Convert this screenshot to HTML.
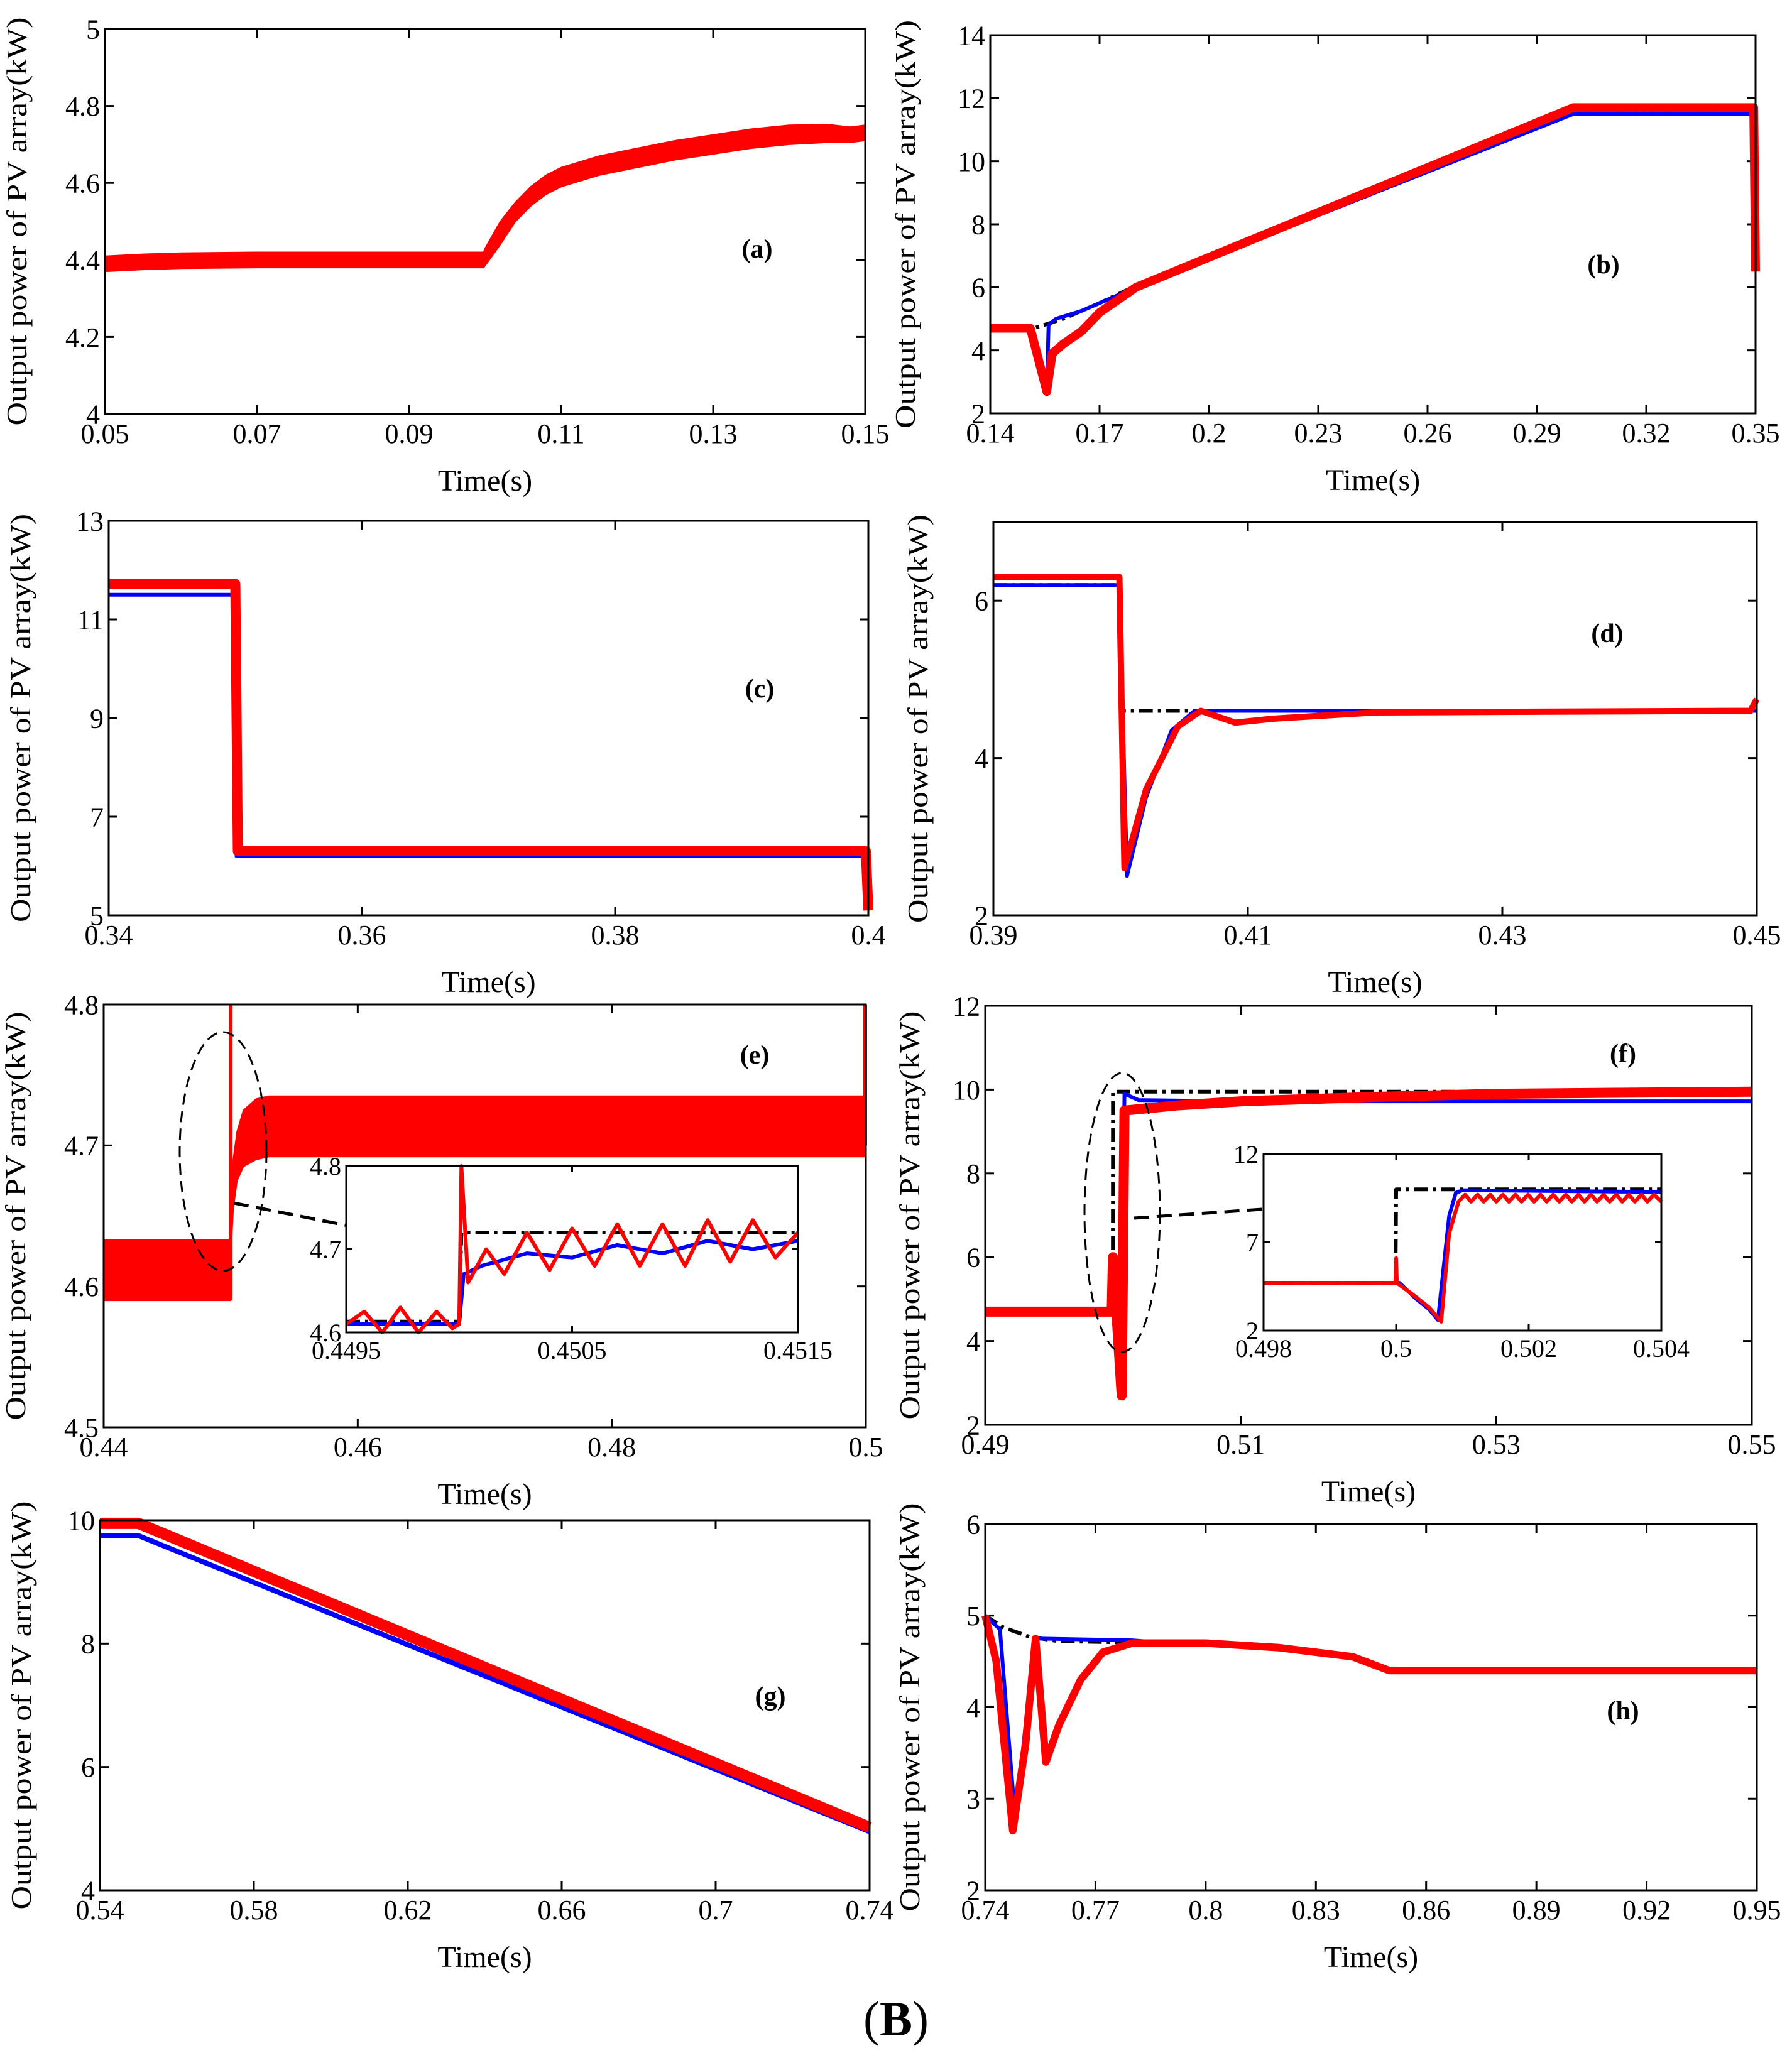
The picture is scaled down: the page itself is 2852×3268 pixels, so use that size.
<!DOCTYPE html>
<html><head><meta charset="utf-8">
<style>
html,body{margin:0;padding:0;background:#fff;}
svg{display:block;font-family:"Liberation Serif",serif;}
</style></head>
<body>
<svg id="fig" width="2852" height="3268" viewBox="0 0 2852 3268" xmlns="http://www.w3.org/2000/svg">
<rect width="2852" height="3268" fill="#fff"/>
<text x="1426" y="3240" font-size="78" text-anchor="middle">(<tspan font-weight="bold">B</tspan>)</text>
</svg>
<script>
// ---- data (time in s, power in kW) ----
const aBandT=[0.05,0.055,0.06,0.07,0.08,0.09,0.0998,0.1,0.102,0.104,0.106,0.108,0.11,0.115,0.12,0.125,0.13,0.135,0.14,0.145,0.148,0.15];
const aBandLo=[4.37,4.375,4.378,4.38,4.38,4.38,4.38,4.385,4.44,4.5,4.54,4.57,4.59,4.62,4.64,4.66,4.675,4.69,4.7,4.705,4.705,4.71];
const aBandHi=[4.41,4.415,4.418,4.42,4.42,4.42,4.42,4.43,4.5,4.55,4.59,4.62,4.64,4.67,4.69,4.71,4.725,4.74,4.75,4.752,4.745,4.75];

const bRefT=[0.14,0.152,0.16,0.17,0.18,0.3,0.35];
const bRefV=[4.7,4.7,5.0,5.5,6.05,11.6,11.6];
const bBlueT=[0.14,0.151,0.1555,0.156,0.158,0.165,0.178,0.3,0.3495,0.35];
const bBlueV=[4.7,4.7,2.6,4.8,5.0,5.25,5.9,11.5,11.5,7.0];
const bRedT=[0.14,0.151,0.1555,0.157,0.16,0.165,0.17,0.18,0.3,0.3495,0.35];
const bRedV=[4.7,4.7,2.7,3.9,4.2,4.6,5.2,6.0,11.7,11.7,6.5];

const cBlueT=[0.34,0.35,0.3501,0.4];
const cBlueV=[11.5,11.5,6.2,6.2];
const cRedT=[0.34,0.35,0.3502,0.3998,0.4];
const cRedV=[11.72,11.72,6.3,6.3,5.1];

const dRefT=[0.39,0.3999,0.40,0.45];
const dRefV=[6.2,6.2,4.6,4.6];
const dBlueT=[0.39,0.3999,0.4005,0.402,0.404,0.4058,0.41,0.45];
const dBlueV=[6.2,6.2,2.5,3.5,4.35,4.6,4.6,4.6];
const dRedT=[0.39,0.3999,0.4003,0.402,0.4045,0.4063,0.409,0.412,0.42,0.4495,0.45];
const dRedV=[6.3,6.3,2.6,3.6,4.4,4.6,4.45,4.5,4.58,4.6,4.75];

const eBand1T=[0.44,0.45];
const eBand1Lo=[4.59,4.59];
const eBand1Hi=[4.633,4.633];
const eBand2T=[0.45,0.4502,0.4505,0.451,0.452,0.453,0.5];
const eBand2Lo=[4.62,4.655,4.675,4.685,4.69,4.692,4.692];
const eBand2Hi=[4.64,4.69,4.71,4.725,4.733,4.735,4.735];
const eSpike1T=[0.45,0.45];
const eSpike1V=[4.59,4.8];
const eSpike2T=[0.49995,0.49995];
const eSpike2V=[4.7,4.8];
const eInRefT=[0.4495,0.45,0.45001,0.4515];
const eInRefV=[4.613,4.613,4.72,4.72];
const eInBlueT=[0.4495,0.4499,0.45,0.45002,0.4501,0.4503,0.4505,0.4507,0.4509,0.4511,0.4513,0.4515];
const eInBlueV=[4.61,4.61,4.61,4.67,4.68,4.695,4.69,4.705,4.695,4.71,4.7,4.71];
const eInRedT=[0.4495,0.44958,0.44966,0.44974,0.44982,0.4499,0.44997,0.45,0.45001,0.45004,0.45012,0.4502,0.4503,0.4504,0.4505,0.4506,0.4507,0.4508,0.4509,0.451,0.4511,0.4512,0.4513,0.4514,0.4515];
const eInRedV=[4.61,4.625,4.6,4.63,4.6,4.625,4.605,4.61,4.8,4.66,4.7,4.67,4.72,4.675,4.725,4.68,4.73,4.68,4.73,4.68,4.735,4.685,4.735,4.69,4.72];

const fRefT=[0.49,0.49999,0.5,0.55];
const fRefV=[4.7,4.7,9.95,9.95];
const fBlueT=[0.49,0.4999,0.5,0.50063,0.5009,0.502,0.51,0.55];
const fBlueV=[4.7,4.7,6.0,2.8,9.9,9.75,9.72,9.72];
const fRedT=[0.49,0.4999,0.5,0.50068,0.5009,0.505,0.51,0.52,0.53,0.55];
const fRedV=[4.7,4.7,6.0,2.7,9.5,9.62,9.72,9.82,9.9,9.95];
const fInRefT=[0.498,0.49999,0.5,0.504];
const fInRefV=[4.7,4.7,10.0,10.0];
const fInBlueT=[0.498,0.5,0.50005,0.5003,0.5005,0.50063,0.5008,0.5009,0.501,0.504];
const fInBlueV=[4.7,4.7,4.7,3.8,3.2,2.6,8.5,9.8,9.95,9.85];
const fInRedT=[0.498,0.49999,0.5,0.50001,0.5003,0.5005,0.50068,0.5008,0.50094,0.50104,0.50113,0.50123,0.50132,0.50142,0.50151,0.50161,0.5017,0.5018,0.50189,0.50199,0.50208,0.50218,0.50227,0.50237,0.50246,0.50256,0.50265,0.50275,0.50284,0.50294,0.50303,0.50313,0.50322,0.50332,0.50341,0.50351,0.5036,0.5037,0.50379,0.50389,0.504];
const fInRedV=[4.7,4.7,6.1,4.7,3.9,3.3,2.5,7.5,9.3,9.7,9.3,9.7,9.3,9.7,9.3,9.7,9.3,9.7,9.3,9.7,9.3,9.7,9.3,9.7,9.3,9.7,9.3,9.7,9.3,9.7,9.3,9.7,9.3,9.7,9.3,9.7,9.3,9.7,9.3,9.7,9.3];

const gBlueT=[0.54,0.55,0.74];
const gBlueV=[9.75,9.75,4.95];
const gRedT=[0.54,0.55,0.74];
const gRedV=[9.95,9.95,5.02];

const hRefT=[0.74,0.745,0.752,0.76,0.79,0.82,0.84,0.85,0.95];
const hRefV=[5.0,4.87,4.77,4.72,4.7,4.65,4.55,4.4,4.4];
const hBlueT=[0.74,0.744,0.7482,0.752,0.754,0.78,0.79,0.82,0.84,0.85,0.95];
const hBlueV=[5.0,4.85,2.75,4.2,4.75,4.73,4.7,4.65,4.55,4.4,4.4];
const hRedT=[0.74,0.743,0.7475,0.751,0.7537,0.7565,0.76,0.766,0.772,0.78,0.8,0.82,0.84,0.85,0.95];
const hRedV=[5.0,4.5,2.65,3.6,4.75,3.4,3.8,4.3,4.6,4.7,4.7,4.65,4.55,4.4,4.4];

// ---- drawing ----
const NS="http://www.w3.org/2000/svg";
const fig=document.getElementById('fig');
function mk(tag,attrs,parent){const e=document.createElementNS(NS,tag);for(const k in attrs)e.setAttribute(k,attrs[k]);(parent||fig).appendChild(e);return e;}
const STY={ref:{stroke:'#000',w:6,dash:'22 8 5 8'},blue:{stroke:'#0000ff',w:6},red:{stroke:'#ff0000',w:7}};

function panel(p){
  const g=mk('g',{});
  
  
  const sx=t=>p.L+(t-p.x0)/(p.x1-p.x0)*(p.R-p.L);
  const sy=v=>p.B-(v-p.y0)/(p.y1-p.y0)*(p.B-p.T);
  if(p.inset){const bg=mk('rect',{x:p.L,y:p.T,width:p.R-p.L,height:p.B-p.T,fill:'#fff'},g);
    
    }
  const fs=p.fs||44, tl=p.inset?10:14;
  p.xt.forEach((t,i)=>{const x=sx(t);
    mk('line',{x1:x,y1:p.B,x2:x,y2:p.B-tl,stroke:'#000','stroke-width':3},g);
    mk('line',{x1:x,y1:p.T,x2:x,y2:p.T+tl,stroke:'#000','stroke-width':3},g);
    const tx=mk('text',{x:x,y:p.B+fs*1.05,'font-size':fs,'text-anchor':'middle'},g);
    tx.textContent=p.xl[i];
    
    });
  p.yt.forEach((v,i)=>{const y=sy(v);
    mk('line',{x1:p.L,y1:y,x2:p.L+tl,y2:y,stroke:'#000','stroke-width':3},g);
    mk('line',{x1:p.R,y1:y,x2:p.R-tl,y2:y,stroke:'#000','stroke-width':3},g);
    const tx=mk('text',{x:p.L-8,y:y+fs*0.35,'font-size':fs,'text-anchor':'end'},g);
    tx.textContent=p.yl[i];
    
    });
  const cp='cp'+p.name;
  const cl=mk('clipPath',{id:cp},g);mk('rect',{x:p.L-8,y:p.T-30,width:p.R-p.L+16,height:p.B-p.T+40},cl);
  (p.bands||[]).forEach(b=>{
    const pts=b.t.map((t,i)=>sx(t).toFixed(1)+','+sy(b.hi[i]).toFixed(1));
    for(let i=b.t.length-1;i>=0;i--)pts.push(sx(b.t[i]).toFixed(1)+','+sy(b.lo[i]).toFixed(1));
    const pg=mk('polygon',{points:pts.join(' '),fill:'#ff0000',stroke:'#ff0000','stroke-width':2,'clip-path':'url(#'+cp+')'},g);
    
    });
  (p.series||[]).forEach(s=>{const st=STY[s.kind];
    const d=s.t.map((t,i)=>(i?'L':'M')+sx(t).toFixed(1)+','+sy(s.v[i]).toFixed(1)).join('');
    const a={d:d,fill:'none',stroke:st.stroke,'stroke-width':s.w||st.w,'stroke-linejoin':'round','clip-path':'url(#'+cp+')'};
    if(st.dash)a['stroke-dasharray']=st.dash;
    const pa=mk('path',a,g);
    
    });
  const fr=mk('rect',{x:p.L,y:p.T,width:p.R-p.L,height:p.B-p.T,fill:'none',stroke:'#000','stroke-width':3},g);
  
  
  if(!p.inset){
    const xt=mk('text',{x:(p.L+p.R)/2,y:p.B+122,'font-size':48,'text-anchor':'middle'},g);
    xt.textContent='Time(s)';
    
    
    const yc=(p.T+p.B)/2, yx=p.L-(p.ylx||125);
    const yt=mk('text',{x:yx,y:yc,'font-size':46,'text-anchor':'middle',transform:'rotate(-90 '+yx+' '+yc+')',textLength:650,lengthAdjust:'spacingAndGlyphs'},g);
    yt.textContent='Output power of PV array(kW)';
    
    
    const lb=mk('text',{x:p.lab[0],y:p.lab[1],'font-size':42,'font-weight':'bold','text-anchor':'middle'},g);
    lb.textContent=p.labText;
    
    
  }
}
const R=(t,v,kind,w)=>({t:t,v:v,kind:kind,w:w});
panel({name:'panel-a',L:167,R:1377,T:46,B:659,x0:0.05,x1:0.15,y0:4,y1:5,xt:[0.05,0.07,0.09,0.11,0.13,0.15],xl:['0.05','0.07','0.09','0.11','0.13','0.15'],yt:[4,4.2,4.4,4.6,4.8,5],yl:['4','4.2','4.4','4.6','4.8','5'],lab:[1205,410],labText:'(a)',ylx:125,
  bands:[{t:aBandT,lo:aBandLo,hi:aBandHi}]});
panel({name:'panel-b',L:1576,R:2794,T:56,B:658,x0:0.14,x1:0.35,y0:2,y1:14,xt:[0.14,0.17,0.2,0.23,0.26,0.29,0.32,0.35],xl:['0.14','0.17','0.2','0.23','0.26','0.29','0.32','0.35'],yt:[2,4,6,8,10,12,14],yl:['2','4','6','8','10','12','14'],lab:[2552,435],labText:'(b)',ylx:120,
  series:[R(bRefT,bRefV,'ref'),R(bBlueT,bBlueV,'blue'),R(bRedT,bRedV,'red',14)]});
panel({name:'panel-c',L:173,R:1382,T:829,B:1457,x0:0.34,x1:0.4,y0:5,y1:13,xt:[0.34,0.36,0.38,0.4],xl:['0.34','0.36','0.38','0.4'],yt:[5,7,9,11,13],yl:['5','7','9','11','13'],lab:[1209,1110],labText:'(c)',ylx:125,
  series:[R(cBlueT,cBlueV,'blue'),R(cRedT,cRedV,'red',16)]});
panel({name:'panel-d',L:1581,R:2796,T:831,B:1457,x0:0.39,x1:0.45,y0:2,y1:7,xt:[0.39,0.41,0.43,0.45],xl:['0.39','0.41','0.43','0.45'],yt:[2,4,6],yl:['2','4','6'],lab:[2558,1022],labText:'(d)',ylx:105,
  series:[R(dRefT,dRefV,'ref'),R(dBlueT,dBlueV,'blue'),R(dRedT,dRedV,'red',10)]});
panel({name:'panel-e',L:165,R:1378,T:1599,B:2272,x0:0.44,x1:0.5,y0:4.5,y1:4.8,xt:[0.44,0.46,0.48,0.5],xl:['0.44','0.46','0.48','0.5'],yt:[4.5,4.6,4.7,4.8],yl:['4.5','4.6','4.7','4.8'],lab:[1201,1693],labText:'(e)',ylx:125,
  bands:[{t:eBand1T,lo:eBand1Lo,hi:eBand1Hi},{t:eBand2T,lo:eBand2Lo,hi:eBand2Hi}],
  series:[R(eSpike1T,eSpike1V,'red',6),R(eSpike2T,eSpike2V,'red',6)]});
panel({name:'panel-f',L:1568,R:2788,T:1601,B:2268,x0:0.49,x1:0.55,y0:2,y1:12,xt:[0.49,0.51,0.53,0.55],xl:['0.49','0.51','0.53','0.55'],yt:[2,4,6,8,10,12],yl:['2','4','6','8','10','12'],lab:[2583,1691],labText:'(f)',ylx:105,
  series:[R(fRefT,fRefV,'ref'),R(fBlueT,fBlueV,'blue'),R(fRedT,fRedV,'red',16)]});
panel({name:'panel-g',L:159,R:1384,T:2420,B:3009,x0:0.54,x1:0.74,y0:4,y1:10,xt:[0.54,0.58,0.62,0.66,0.7,0.74],xl:['0.54','0.58','0.62','0.66','0.7','0.74'],yt:[4,6,8,10],yl:['4','6','8','10'],lab:[1226,2714],labText:'(g)',ylx:110,
  series:[R(gBlueT,gBlueV,'blue',8),R(gRedT,gRedV,'red',18)]});
panel({name:'panel-h',L:1568,R:2796,T:2426,B:3009,x0:0.74,x1:0.95,y0:2,y1:6,xt:[0.74,0.77,0.8,0.83,0.86,0.89,0.92,0.95],xl:['0.74','0.77','0.8','0.83','0.86','0.89','0.92','0.95'],yt:[2,3,4,5,6],yl:['2','3','4','5','6'],lab:[2583,2737],labText:'(h)',ylx:105,
  series:[R(hRefT,hRefV,'ref'),R(hBlueT,hBlueV,'blue'),R(hRedT,hRedV,'red',12)]});

// annotations (ellipses + arrows)
function anno(name,cx,cy,rx,ry,x1,y1,x2,y2){
  const g=mk('g',{});
  
  
  mk('ellipse',{cx:cx,cy:cy,rx:rx,ry:ry,fill:'none',stroke:'#000','stroke-width':3,'stroke-dasharray':'18 10'},g);
  mk('line',{x1:x1,y1:y1,x2:x2,y2:y2,stroke:'#000','stroke-width':5,'stroke-dasharray':'24 12'},g);
  const ang=Math.atan2(y2-y1,x2-x1),L=36;
  const p=[[x2-L*Math.cos(ang-0.5),y2-L*Math.sin(ang-0.5)],[x2,y2],[x2-L*Math.cos(ang+0.5),y2-L*Math.sin(ang+0.5)]];
  mk('polyline',{points:p.map(q=>q.join(',')).join(' '),fill:'none',stroke:'#000','stroke-width':5},g);
}
anno('zoom-annotation-e',355,1833,69,190,372,1915,700,1980);
anno('zoom-annotation-f',1786,1930,60,222,1805,1939,2080,1920);

panel({name:'inset-e',inset:true,fs:40,L:551,R:1270,T:1856,B:2121,x0:0.4495,x1:0.4515,y0:4.6,y1:4.8,xt:[0.4495,0.4505,0.4515],xl:['0.4495','0.4505','0.4515'],yt:[4.6,4.7,4.8],yl:['4.6','4.7','4.8'],
  series:[R(eInRefT,eInRefV,'ref'),R(eInBlueT,eInBlueV,'blue'),R(eInRedT,eInRedV,'red',6)]});
panel({name:'inset-f',inset:true,fs:40,L:2011,R:2644,T:1837,B:2118,x0:0.498,x1:0.504,y0:2,y1:12,xt:[0.498,0.5,0.502,0.504],xl:['0.498','0.5','0.502','0.504'],yt:[2,7,12],yl:['2','7','12'],
  series:[R(fInRefT,fInRefV,'ref'),R(fInBlueT,fInBlueV,'blue'),R(fInRedT,fInRedV,'red',6)]});
</script>
</body></html>
